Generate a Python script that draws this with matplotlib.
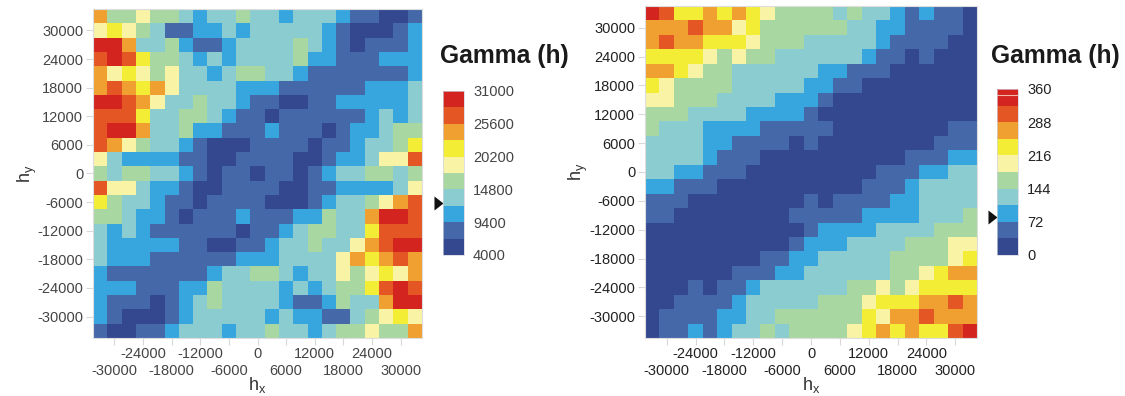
import numpy as np
import matplotlib
matplotlib.use("Agg")
import matplotlib.pyplot as plt
from matplotlib.cm import ScalarMappable
from matplotlib.colors import BoundaryNorm, ListedColormap

plt.rcParams["font.family"] = ["Liberation Sans", "DejaVu Sans"]

band_colors = ["#33488f", "#4468a8", "#38a6de", "#8accd0", "#a9d7a2",
               "#f8f3a5", "#f3ee35", "#f0a030", "#e45725", "#d32420"]

left_levels = [4000, 6700, 9400, 12100, 14800, 17500, 20200, 22900, 25600, 28300, 31000]
right_levels = [0, 36, 72, 108, 144, 180, 216, 252, 288, 324, 360]
left_cbar_ticks = [4000, 9400, 14800, 20200, 25600, 31000]
right_cbar_ticks = [0, 72, 144, 216, 288, 360]
left_marker = 12560
right_marker = 82

lags = [-33000, -30000, -27000, -24000, -21000, -18000, -15000, -12000, -9000, -6000, -3000, 0,
        3000, 6000, 9000, 12000, 15000, 18000, 21000, 24000, 27000, 30000, 33000]
tick_pos = [-30000, -24000, -18000, -12000, -6000, 0, 6000, 12000, 18000, 24000, 30000]
tick_text = ["-30000", "-24000", "-18000", "-12000", "-6000", "0",
             "6000", "12000", "18000", "24000", "30000"]

# colour band of each cell, top row first
left_bands = [
    [7,4,4,5,4,4,3,2,3,3,4,3,3,2,3,3,3,2,1,1,0,0,1],
    [5,6,5,4,3,1,1,2,2,3,2,3,3,3,3,3,2,1,0,0,0,1,2],
    [9,9,7,3,3,4,2,1,1,2,3,3,3,3,4,3,2,1,0,1,1,1,2],
    [8,9,8,6,4,4,3,2,3,2,3,3,3,3,4,2,2,1,1,1,2,2,2],
    [7,5,6,5,4,5,3,3,2,3,4,4,3,3,2,1,1,1,1,1,1,1,2],
    [7,8,7,6,7,5,3,3,3,3,2,2,2,1,1,1,1,1,1,2,2,2,3],
    [9,9,8,7,5,3,3,4,3,3,2,1,1,0,0,1,1,2,2,2,2,2,3],
    [8,8,8,6,3,3,4,4,3,2,1,1,0,1,1,1,1,1,1,2,3,2,3],
    [8,9,9,7,3,3,4,2,2,1,1,1,2,1,1,1,0,1,2,2,3,4,4],
    [8,7,5,4,3,3,2,1,0,0,0,1,1,1,1,0,1,1,2,3,3,4,6],
    [5,3,2,2,2,2,1,1,0,0,1,1,1,1,0,0,1,2,2,3,5,5,8],
    [4,3,4,4,3,3,2,1,0,1,1,0,1,1,0,1,2,3,3,4,4,3,4],
    [8,5,5,3,2,2,1,0,0,1,1,1,1,0,0,1,1,2,2,2,2,3,5],
    [6,4,3,3,2,1,1,0,1,1,1,1,0,0,0,1,2,3,3,4,5,7,8],
    [4,4,3,2,2,1,0,1,1,1,2,1,1,1,2,2,4,3,3,7,9,9,8],
    [3,2,3,2,1,1,1,1,1,1,0,1,1,2,3,4,4,3,3,6,8,8,8],
    [3,2,2,2,2,2,1,1,0,0,1,1,2,3,3,4,3,3,5,7,8,9,9],
    [3,2,2,2,1,1,1,1,1,1,2,2,2,3,3,3,3,5,7,6,7,8,7],
    [2,1,1,1,1,1,1,1,2,3,3,4,4,3,2,3,3,5,4,5,6,5,7],
    [2,2,2,1,1,1,2,2,4,3,3,3,3,2,3,2,3,4,4,6,8,9,8],
    [2,1,1,1,0,1,2,3,4,3,3,3,3,2,1,1,2,4,3,3,7,9,9],
    [2,1,0,0,0,1,2,3,3,3,3,3,2,3,2,2,1,1,3,4,5,6,5],
    [1,0,0,1,1,2,3,3,3,2,3,3,4,3,3,2,3,4,4,5,4,4,7],
]

right_bands = [
    [9,8,6,6,7,6,7,6,5,4,4,4,4,3,4,3,3,2,1,2,1,1,0],
    [7,7,7,8,7,7,5,6,4,4,4,4,4,4,3,3,2,2,1,1,1,1,0],
    [7,8,7,7,6,6,6,5,4,4,4,3,3,3,3,3,2,1,1,1,1,0,0],
    [6,6,6,6,5,4,5,4,4,3,3,3,3,3,3,2,1,1,0,1,0,0,0],
    [7,7,6,5,4,4,3,3,3,3,3,3,2,2,1,1,1,0,0,0,0,0,0],
    [6,5,4,4,4,4,3,3,3,3,3,2,2,1,1,0,0,0,0,0,0,0,0],
    [5,5,4,4,4,3,3,3,3,2,2,2,1,0,0,0,0,0,0,0,0,0,0],
    [4,4,4,3,3,3,3,2,2,2,2,1,0,0,0,0,0,0,0,0,0,0,0],
    [4,3,3,3,2,2,2,2,1,1,1,1,1,0,0,0,0,0,0,0,0,1,1],
    [3,3,3,3,2,2,1,1,1,1,0,1,0,0,0,0,0,0,0,0,1,1,1],
    [3,3,3,3,2,1,1,1,0,0,0,0,0,0,0,0,0,0,1,1,1,2,2],
    [3,3,2,2,1,1,1,0,0,0,0,0,0,0,0,0,1,1,1,2,2,3,3],
    [2,2,1,1,1,0,0,0,0,0,0,0,0,0,0,1,1,1,2,3,3,3,3],
    [1,1,1,0,0,0,0,0,0,0,0,1,0,1,1,1,1,2,2,3,3,3,3],
    [1,1,0,0,0,0,0,0,0,0,1,1,1,1,1,2,2,2,2,3,3,3,4],
    [0,0,0,0,0,0,0,0,0,0,0,1,2,2,2,2,3,3,3,3,4,4,4],
    [0,0,0,0,0,0,0,0,0,0,1,2,2,2,3,3,3,3,4,4,4,5,5],
    [0,0,0,0,0,0,0,0,1,1,2,2,3,3,3,3,3,4,4,4,4,5,6],
    [0,0,0,0,0,0,1,1,1,2,2,3,3,3,3,3,3,4,4,5,6,7,7],
    [0,0,0,1,0,1,1,2,3,3,3,3,3,3,4,4,5,4,5,6,6,6,6],
    [0,0,1,1,1,1,2,3,3,3,3,3,4,4,4,5,6,6,6,7,7,8,7],
    [0,1,1,1,1,2,2,3,3,4,4,4,4,4,4,6,5,7,7,8,7,7,7],
    [0,1,1,2,1,2,3,3,4,3,4,4,4,4,5,6,7,6,7,6,6,8,9],
]

W, H = 1125, 396
fig = plt.figure(figsize=(W / 100, H / 100), dpi=100)
cmap = ListedColormap(band_colors)


def px_axes(x0, y0, x1, y1):
    # pixel box measured from the top left of the image
    return fig.add_axes([x0 / W, 1 - y1 / H, (x1 - x0) / W, (y1 - y0) / H])


def draw_panel(box, cbar_box, bands, levels, cbar_ticks, marker, title_x, text_color):
    ax = px_axes(*box)
    norm = BoundaryNorm(levels, cmap.N)
    gamma = np.array(levels)[np.array(bands)]
    ax.pcolormesh(lags, lags[::-1], gamma, cmap=cmap, norm=norm, shading="nearest",
                  antialiased=False)
    ax.set_xticks(tick_pos, tick_text)
    ax.set_yticks(tick_pos, tick_text)
    ax.tick_params(length=5, width=0.8, color="#d8d8d8", labelsize=10.5,
                   labelcolor=text_color)
    ax.tick_params(axis="x", pad=1.5)
    ax.tick_params(axis="y", pad=2)
    for tick in ax.xaxis.get_major_ticks()[::2]:
        tick.set_pad(13.5)
    for side in ax.spines.values():
        side.set_color("#dddddd")
        side.set_linewidth(0.8)
    ax.set_xlabel(r"h$_{\mathregular{x}}$", fontsize=13, color="#333333")
    ax.set_ylabel(r"h$_{\mathregular{y}}$", fontsize=13, color="#333333")
    ax.xaxis.set_label_coords(0.5, -0.112)
    ax.yaxis.set_label_coords(-0.165, 0.5)

    cax = px_axes(*cbar_box)
    cbar = fig.colorbar(ScalarMappable(norm=norm, cmap=cmap), cax=cax, ticks=cbar_ticks,
                        spacing="uniform")
    cbar.minorticks_off()
    cbar.outline.set_edgecolor("#cfd3e0")
    cbar.outline.set_linewidth(0.5)
    cax.tick_params(length=0, pad=6.5, labelsize=10.5, labelcolor=text_color)
    cax.plot([0], [marker], marker=[(-9, -7), (0, 0), (-9, 7)], color="#111111",
             markersize=13, markeredgewidth=0, clip_on=False,
             transform=cax.get_yaxis_transform())

    fig.text(title_x / W, 1 - 56 / H, "Gamma (h)", fontsize=17.7, fontweight="bold",
             color="#1a1a1a", ha="left", va="center")
    return cax


draw_panel((93, 9, 422, 338), (443, 91, 464, 255), left_bands, left_levels,
           left_cbar_ticks, left_marker, 440, "#444444")
right_cax = draw_panel((645, 6, 977, 338), (997, 89, 1018, 255), right_bands, right_levels,
                       right_cbar_ticks, right_marker, 991, "#222222")
# pale seam across the top band of the right colour bar
right_cax.axhline(347, color="#f2b8a8", linewidth=0.8)

fig.savefig("out.png", dpi=100)
